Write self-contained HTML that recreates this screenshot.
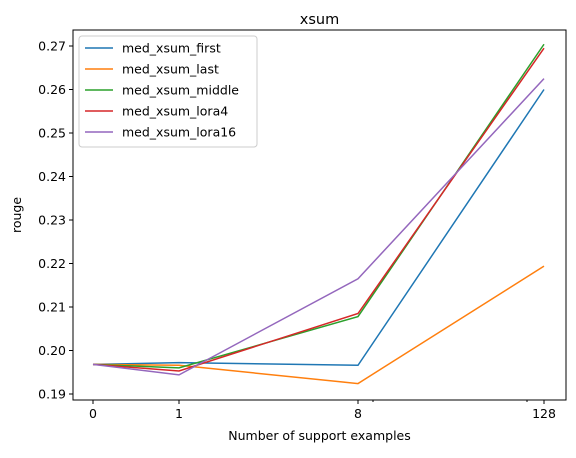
<!DOCTYPE html>
<html><head><meta charset="utf-8"><style>
body{margin:0;background:#fff}
svg{font-family:"DejaVu Sans","Liberation Sans",sans-serif}
</style></head><body>
<svg id="c" width="576" height="453" viewBox="0 0 576 453"></svg>
<script>
const categories=[0,1,8,128];
const seriesNames=["med_xsum_first","med_xsum_last","med_xsum_middle","med_xsum_lora4","med_xsum_lora16"];
const colors=["#1f77b4","#ff7f0e","#2ca02c","#d62728","#9467bd"];
const first=[0.1968,0.1972,0.1966,0.2600];
const last=[0.1968,0.1966,0.1924,0.2194];
const middle=[0.1968,0.1960,0.2078,0.2704];
const lora4=[0.1968,0.1953,0.2085,0.2695];
const lora16=[0.1968,0.1944,0.2165,0.2625];
const yTicks=[0.19,0.20,0.21,0.22,0.23,0.24,0.25,0.26,0.27];
const xTickLabels=["0","1","8","128"];
const series=[first,last,middle,lora4,lora16];
const NS="http://www.w3.org/2000/svg";
const svg=document.getElementById('c');
const L=73,R=566,T=30,B=400;
const xPos=[93,179,358,544];
function x(v){const i=categories.indexOf(v);return xPos[i];}
function y(v){return 394-(v-0.19)*4350;}
function el(t,a,p){const e=document.createElementNS(NS,t);for(const k in a)e.setAttribute(k,a[k]);(p||svg).appendChild(e);return e;}
const frame=el('rect',{x:L,y:T,width:R-L,height:B-T,fill:'none',stroke:'#000','stroke-width':1});


const t=el('text',{x:(L+R)/2,y:24,'text-anchor':'middle','font-size':14.5});t.textContent='xsum';


yTicks.forEach(v=>{
 const g=el('g',{});
 
 
 el('line',{x1:L-4,x2:L,y1:y(v),y2:y(v),stroke:'#000'},g);
 const tx=el('text',{x:L-7,y:y(v)+4.5,'text-anchor':'end','font-size':12.5},g);tx.textContent=v.toFixed(2);
});
categories.forEach((c,i)=>{
 const g=el('g',{});
 
 
 el('line',{x1:x(c),x2:x(c),y1:B,y2:B+4,stroke:'#000'},g);
 const tx=el('text',{x:x(c),y:B+18,'text-anchor':'middle','font-size':12.5},g);tx.textContent=xTickLabels[i];
});
[373,527].forEach(px=>{el('line',{x1:px,x2:px,y1:B,y2:B+2,stroke:'#000'});});
const xl=el('text',{x:(L+R)/2,y:440,'text-anchor':'middle','font-size':12.5});xl.textContent='Number of support examples';


const yl=el('text',{x:0,y:0,'text-anchor':'middle','font-size':12.5,transform:`translate(21,${(T+B)/2}) rotate(-90)`});yl.textContent='rouge';


series.forEach((s,i)=>{
 const p=el('polyline',{points:s.map((v,j)=>x(categories[j])+','+y(v)).join(' '),fill:'none',stroke:colors[i],'stroke-width':1.5});
 
 
});
const lg=el('g',{});


el('rect',{x:79,y:36,width:178,height:111,rx:3,fill:'#fff',stroke:'#ccc','fill-opacity':0.8},lg);
seriesNames.forEach((n,i)=>{
 const g=el('g',{},lg);
 
 
 const yy=48+i*21;
 el('line',{x1:85,x2:113,y1:yy,y2:yy,stroke:colors[i],'stroke-width':1.5},g);
 const tx=el('text',{x:122,y:yy+4.5,'font-size':12.5},g);tx.textContent=n;
});
</script>
</body></html>
